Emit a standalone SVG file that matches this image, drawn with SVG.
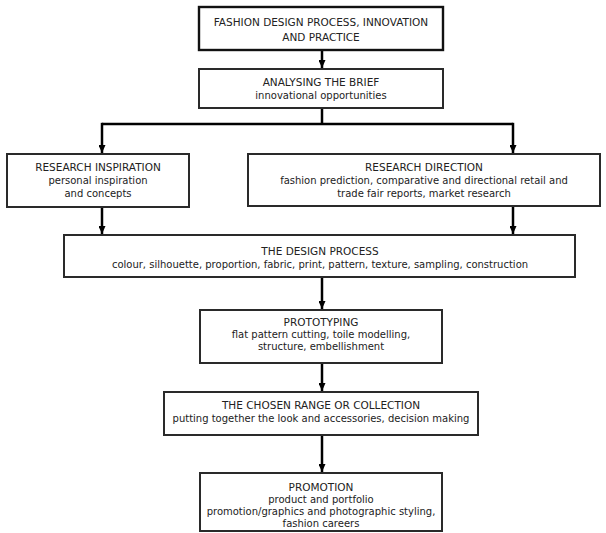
<svg xmlns="http://www.w3.org/2000/svg" width="606" height="533" viewBox="0 0 606 533">
<defs>
<marker id="ah" viewBox="0 0 8 7" refX="8" refY="3.5" markerWidth="8" markerHeight="7" markerUnits="userSpaceOnUse" orient="auto">
<path d="M0,0 L8,3.5 L0,7 Z" fill="#000"/>
</marker>
<style>
.box{fill:#fff;stroke:#2a2a2a;stroke-width:2}
.t{font-family:"DejaVu Sans","Liberation Sans",sans-serif;font-size:10.5px;fill:#222;text-anchor:middle}
.s{font-family:"DejaVu Sans","Liberation Sans",sans-serif;font-size:10px;fill:#222;text-anchor:middle}
.c{fill:none;stroke:#000;stroke-width:2.5}
</style>
</defs>
<rect width="606" height="533" fill="#fff"/>
<g id="connectors">
<line class="c" x1="322" y1="50" x2="322" y2="68" marker-end="url(#ah)"/>
<line class="c" x1="322" y1="108" x2="322" y2="124"/>
<path class="c" d="M102,124 H513"/>
<line class="c" x1="102" y1="122.8" x2="102" y2="153" marker-end="url(#ah)"/>
<line class="c" x1="513" y1="122.8" x2="513" y2="153" marker-end="url(#ah)"/>
<line class="c" x1="102" y1="207" x2="102" y2="234" marker-end="url(#ah)"/>
<line class="c" x1="513" y1="206" x2="513" y2="234" marker-end="url(#ah)"/>
<line class="c" x1="322" y1="277" x2="322" y2="309" marker-end="url(#ah)"/>
<line class="c" x1="322" y1="363" x2="322" y2="391" marker-end="url(#ah)"/>
<line class="c" x1="322" y1="435" x2="322" y2="472" marker-end="url(#ah)"/>
</g>
<g id="n1">
<rect class="box" x="199" y="7" width="244" height="43" style="stroke:#111;stroke-width:2.4"/>
<text class="t" x="321" y="26">FASHION DESIGN PROCESS, INNOVATION</text>
<text class="t" x="321" y="41">AND PRACTICE</text>
</g>
<g id="n2">
<rect class="box" x="199" y="69" width="244" height="39"/>
<text class="t" x="321" y="86">ANALYSING THE BRIEF</text>
<text class="s" x="321" y="99">innovational opportunities</text>
</g>
<g id="n3">
<rect class="box" x="7" y="154" width="182" height="53"/>
<text class="t" x="98" y="171">RESEARCH INSPIRATION</text>
<text class="s" x="98" y="184">personal inspiration</text>
<text class="s" x="98" y="197">and concepts</text>
</g>
<g id="n4">
<rect class="box" x="248" y="154" width="352" height="52"/>
<text class="t" x="424" y="171">RESEARCH DIRECTION</text>
<text class="s" x="424" y="184">fashion prediction, comparative and directional retail and</text>
<text class="s" x="424" y="197">trade fair reports, market research</text>
</g>
<g id="n5">
<rect class="box" x="64" y="235" width="511" height="42"/>
<text class="t" x="320" y="255">THE DESIGN PROCESS</text>
<text class="s" x="320" y="268">colour, silhouette, proportion, fabric, print, pattern, texture, sampling, construction</text>
</g>
<g id="n6">
<rect class="box" x="200" y="310" width="242" height="53"/>
<text class="t" x="321" y="326">PROTOTYPING</text>
<text class="s" x="321" y="338">flat pattern cutting, toile modelling,</text>
<text class="s" x="321" y="350">structure, embellishment</text>
</g>
<g id="n7">
<rect class="box" x="164" y="392" width="314" height="43"/>
<text class="t" x="321" y="409">THE CHOSEN RANGE OR COLLECTION</text>
<text class="s" x="321" y="422">putting together the look and accessories, decision making</text>
</g>
<g id="n8">
<rect class="box" x="200" y="473" width="242" height="58"/>
<text class="t" x="321" y="491">PROMOTION</text>
<text class="s" x="321" y="503">product and portfolio</text>
<text class="s" x="321" y="515">promotion/graphics and photographic styling,</text>
<text class="s" x="321" y="527">fashion careers</text>
</g>
</svg>
